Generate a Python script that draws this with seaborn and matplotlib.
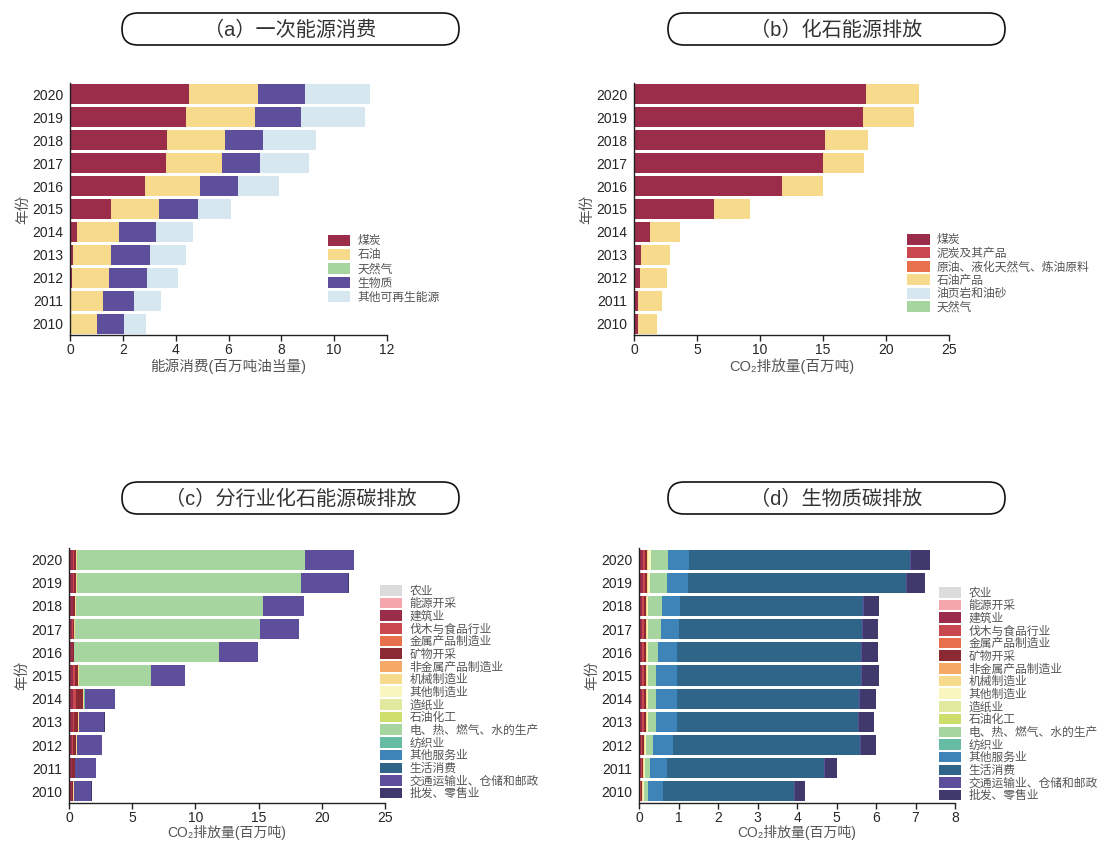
import numpy as np
import pandas as pd
import matplotlib
matplotlib.use("Agg")
import matplotlib.pyplot as plt
from matplotlib.patches import Patch, FancyBboxPatch
import seaborn as sns

# ---------------- data ----------------
years = [str(y) for y in range(2010, 2021)]
year_order = years[::-1]

# (a) primary energy consumption, Mtoe
energy_types = ["煤炭", "石油", "天然气", "生物质", "其他可再生能源"]
energy_coal = [0.05, 0.05, 0.09, 0.13, 0.28, 1.55, 2.85, 3.64, 3.69, 4.40, 4.49]
energy_oil = [0.99, 1.19, 1.38, 1.44, 1.56, 1.82, 2.06, 2.12, 2.18, 2.60, 2.64]
energy_gas = [0, 0, 0, 0, 0, 0, 0, 0, 0, 0, 0]
energy_biomass = [1.00, 1.19, 1.44, 1.46, 1.43, 1.46, 1.46, 1.44, 1.45, 1.73, 1.78]
energy_other = [0.83, 1.00, 1.17, 1.37, 1.37, 1.28, 1.56, 1.84, 2.01, 2.43, 2.45]

# (b) fossil fuel emissions by fuel, Mt CO2
fuel_types = ["煤炭", "泥炭及其产品", "原油、液化天然气、炼油原料", "石油产品", "油页岩和油砂", "天然气"]
fuel_coal = [0.28, 0.33, 0.44, 0.55, 1.24, 6.35, 11.77, 15.00, 15.19, 18.15, 18.45]
fuel_peat = [0, 0, 0, 0, 0, 0, 0, 0, 0, 0, 0]
fuel_crude = [0, 0, 0, 0, 0, 0, 0, 0, 0, 0, 0]
fuel_oil_products = [1.54, 1.88, 2.16, 2.27, 2.43, 2.88, 3.23, 3.29, 3.40, 4.05, 4.15]
fuel_shale = [0, 0, 0, 0, 0, 0, 0, 0, 0, 0, 0]
fuel_gas = [0, 0, 0, 0, 0, 0, 0, 0, 0, 0, 0]

# sectors shared by (c) and (d)
sectors = ["农业", "能源开采", "建筑业", "伐木与食品行业", "金属产品制造业", "矿物开采",
           "非金属产品制造业", "机械制造业", "其他制造业", "造纸业", "石油化工",
           "电、热、燃气、水的生产", "纺织业", "其他服务业", "生活消费",
           "交通运输业、仓储和邮政", "批发、零售业"]
zeros = [0] * 11

# (c) fossil emissions by sector, Mt CO2
fossil_agri = [0, 0, 0, 0, 0, 0, 0.04, 0, 0, 0, 0]
fossil_construction = [0.20, 0.22, 0.25, 0.30, 0.35, 0.35, 0.25, 0.25, 0.28, 0.35, 0.35]
fossil_food = [0.04, 0.05, 0.08, 0.10, 0.20, 0.10, 0.03, 0.03, 0.04, 0.05, 0.05]
fossil_mining = [0.10, 0.18, 0.22, 0.33, 0.55, 0.25, 0.05, 0.10, 0.15, 0.15, 0.15]
fossil_machinery = [0.05, 0.05, 0.06, 0.05, 0.06, 0.08, 0.02, 0.06, 0.06, 0.05, 0.06]
fossil_power = [0, 0, 0, 0, 0.06, 5.69, 11.49, 14.68, 14.81, 17.74, 18.06]
fossil_textile = [0, 0, 0, 0, 0.04, 0, 0, 0, 0, 0, 0]
fossil_transport = [1.38, 1.63, 1.97, 2.02, 2.34, 2.71, 3.07, 3.08, 3.22, 3.77, 3.86]
fossil_trade = [0.03, 0.03, 0.03, 0.03, 0.03, 0.03, 0.03, 0.03, 0.03, 0.03, 0.03]

# (d) biomass emissions by sector, Mt CO2
bio_construction = [0.03, 0.04, 0.05, 0.08, 0.08, 0.08, 0.08, 0.08, 0.08, 0.09, 0.09]
bio_food = [0.02, 0.03, 0.03, 0.05, 0.05, 0.05, 0.05, 0.05, 0.05, 0.06, 0.06]
bio_mining = [0.02, 0.03, 0.04, 0.05, 0.05, 0.05, 0.05, 0.05, 0.04, 0.05, 0.05]
bio_machinery = [0.02, 0.02, 0.03, 0.03, 0.03, 0.03, 0.03, 0.03, 0.03, 0.03, 0.04]
bio_other_manuf = [0.03, 0.03, 0.03, 0.03, 0.03, 0.03, 0.03, 0.03, 0.04, 0.05, 0.07]
bio_power = [0.12, 0.13, 0.17, 0.20, 0.19, 0.19, 0.23, 0.31, 0.34, 0.43, 0.42]
bio_services = [0.36, 0.44, 0.50, 0.52, 0.52, 0.52, 0.49, 0.46, 0.47, 0.54, 0.54]
bio_household = [3.32, 3.97, 4.74, 4.59, 4.63, 4.68, 4.67, 4.64, 4.62, 5.51, 5.60]
bio_transport = [0.02, 0.02, 0.02, 0.02, 0.02, 0.02, 0.02, 0.02, 0.02, 0.02, 0.02]
bio_trade = [0.26, 0.30, 0.38, 0.39, 0.41, 0.43, 0.40, 0.39, 0.38, 0.47, 0.48]

# ---------------- colours ----------------
energy_colors = ["#9b2d4a", "#f8da8d", "#a7d5a0", "#5e4f9c", "#d6e7f0"]
fuel_colors = ["#9b2d4a", "#c9474f", "#e8704d", "#f8da8d", "#d6e7f0", "#a7d5a0"]
sector_colors = ["#dcdcdc", "#f4a6ac", "#9b2d4a", "#c9474f", "#e8704d", "#8b2a33",
                 "#f4a966", "#f8da8d", "#faf6c0", "#e1e99e", "#cdde6a", "#a7d5a0",
                 "#66bba3", "#3e84b8", "#2f6589", "#5e4f9c", "#3f3a6b"]

# ---------------- tables ----------------
energy_df = pd.DataFrame(dict(zip(energy_types,
    [energy_coal, energy_oil, energy_gas, energy_biomass, energy_other])))
energy_df["年份"] = years

fuel_df = pd.DataFrame(dict(zip(fuel_types,
    [fuel_coal, fuel_peat, fuel_crude, fuel_oil_products, fuel_shale, fuel_gas])))
fuel_df["年份"] = years

fossil_df = pd.DataFrame(dict(zip(sectors, [
    fossil_agri, zeros, fossil_construction, fossil_food, zeros, fossil_mining,
    zeros, fossil_machinery, zeros, zeros, zeros, fossil_power, fossil_textile,
    zeros, zeros, fossil_transport, fossil_trade])))
fossil_df["年份"] = years

bio_df = pd.DataFrame(dict(zip(sectors, [
    zeros, zeros, bio_construction, bio_food, zeros, bio_mining, zeros,
    bio_machinery, bio_other_manuf, zeros, zeros, bio_power, zeros,
    bio_services, bio_household, bio_transport, bio_trade])))
bio_df["年份"] = years

# ---------------- style ----------------
sns.set_style("ticks")
plt.rcParams["font.family"] = ["Liberation Sans", "Noto Sans CJK SC", "DejaVu Sans"]
plt.rcParams["axes.unicode_minus"] = False

W, H = 1098, 841
fig = plt.figure(figsize=(W / 100, H / 100), dpi=100)

gray_text = "#555555"


def px_axes(x0, x1, ytop, ybot):
    return fig.add_axes([x0 / W, 1 - ybot / H, (x1 - x0) / W, (ybot - ytop) / H])


def draw_stack(ax, frame, columns, colors):
    cum = frame[columns].cumsum(axis=1)
    for col, c in list(zip(columns, colors))[::-1]:
        sns.barplot(x=cum[col], y=frame["年份"], order=year_order, orient="h",
                    color=c, saturation=1, width=0.87, linewidth=0,
                    errorbar=None, ax=ax)


def finish(ax, xmax, step, xlabel, columns, colors, leg_xy, spacing, xlabelpad, xlabelsize):
    ax.set_xlim(0, xmax)
    ticks = np.arange(0, xmax + step / 2, step)
    ax.set_xticks(ticks)
    ax.set_xticklabels([f"{v:g}" for v in ticks])
    ax.set_xlabel(xlabel, fontsize=xlabelsize, color=gray_text, labelpad=xlabelpad)
    ax.set_ylabel("年份", fontsize=10.5, color=gray_text, labelpad=1)
    ax.tick_params(axis="y", length=0, labelsize=10, pad=5)
    ax.tick_params(axis="x", length=4, width=1, labelsize=10, pad=2, color="#222222")
    for s in ["top", "right"]:
        ax.spines[s].set_visible(False)
    for s in ["left", "bottom"]:
        ax.spines[s].set_color("#222222")
        ax.spines[s].set_linewidth(1.0)
    handles = [Patch(facecolor=c, edgecolor="none") for c in colors]
    leg = ax.legend(handles, columns, loc="upper left", bbox_to_anchor=leg_xy,
                    frameon=False, fontsize=8.5, handlelength=1.9, handleheight=1.0,
                    labelspacing=spacing, borderpad=0, borderaxespad=0,
                    handletextpad=0.6)
    for t in leg.get_texts():
        t.set_color(gray_text)


co2_label = "CO₂排放量(百万吨)"

ax_a = px_axes(70, 387, 83, 335)
draw_stack(ax_a, energy_df, energy_types, energy_colors)
finish(ax_a, 12, 2, "能源消费(百万吨油当量)", energy_types, energy_colors,
       (0.814, 0.397), 0.15, 1, 10.5)

ax_b = px_axes(634, 949, 83, 335)
draw_stack(ax_b, fuel_df, fuel_types, fuel_colors)
finish(ax_b, 25, 5, co2_label, fuel_types, fuel_colors, (0.867, 0.401), 0.1, 1, 10.5)

ax_c = px_axes(69, 385, 548, 803)
draw_stack(ax_c, fossil_df, sectors, sector_colors)
finish(ax_c, 25, 5, co2_label, sectors, sector_colors, (0.984, 0.855), 0.03, 0, 10)

ax_d = px_axes(639, 955, 548, 803)
draw_stack(ax_d, bio_df, sectors, sector_colors)
finish(ax_d, 8, 1, co2_label, sectors, sector_colors, (0.949, 0.847), 0.03, 0, 10)

# rounded title boxes, drawn on a pixel-unit overlay
overlay = fig.add_axes([0, 0, 1, 1], facecolor="none")
overlay.set_xlim(0, W)
overlay.set_ylim(H, 0)
overlay.axis("off")
titles = [((122, 13), "（a）一次能源消费"),
          ((668, 13), "（b）化石能源排放"),
          ((122, 482), "（c）分行业化石能源碳排放"),
          ((668, 482), "（d）生物质碳排放")]
bw, bh = 337, 32
for (x0, y0), label in titles:
    overlay.add_patch(FancyBboxPatch((x0, y0), bw, bh,
                                     boxstyle="round,pad=0,rounding_size=16",
                                     facecolor="white", edgecolor="#111111", lw=1.2))
    overlay.text(x0 + bw / 2, y0 + bh / 2 + 1, label, ha="center", va="center",
                 fontsize=14.5, color="#333333")

fig.savefig("out.png", dpi=100)
